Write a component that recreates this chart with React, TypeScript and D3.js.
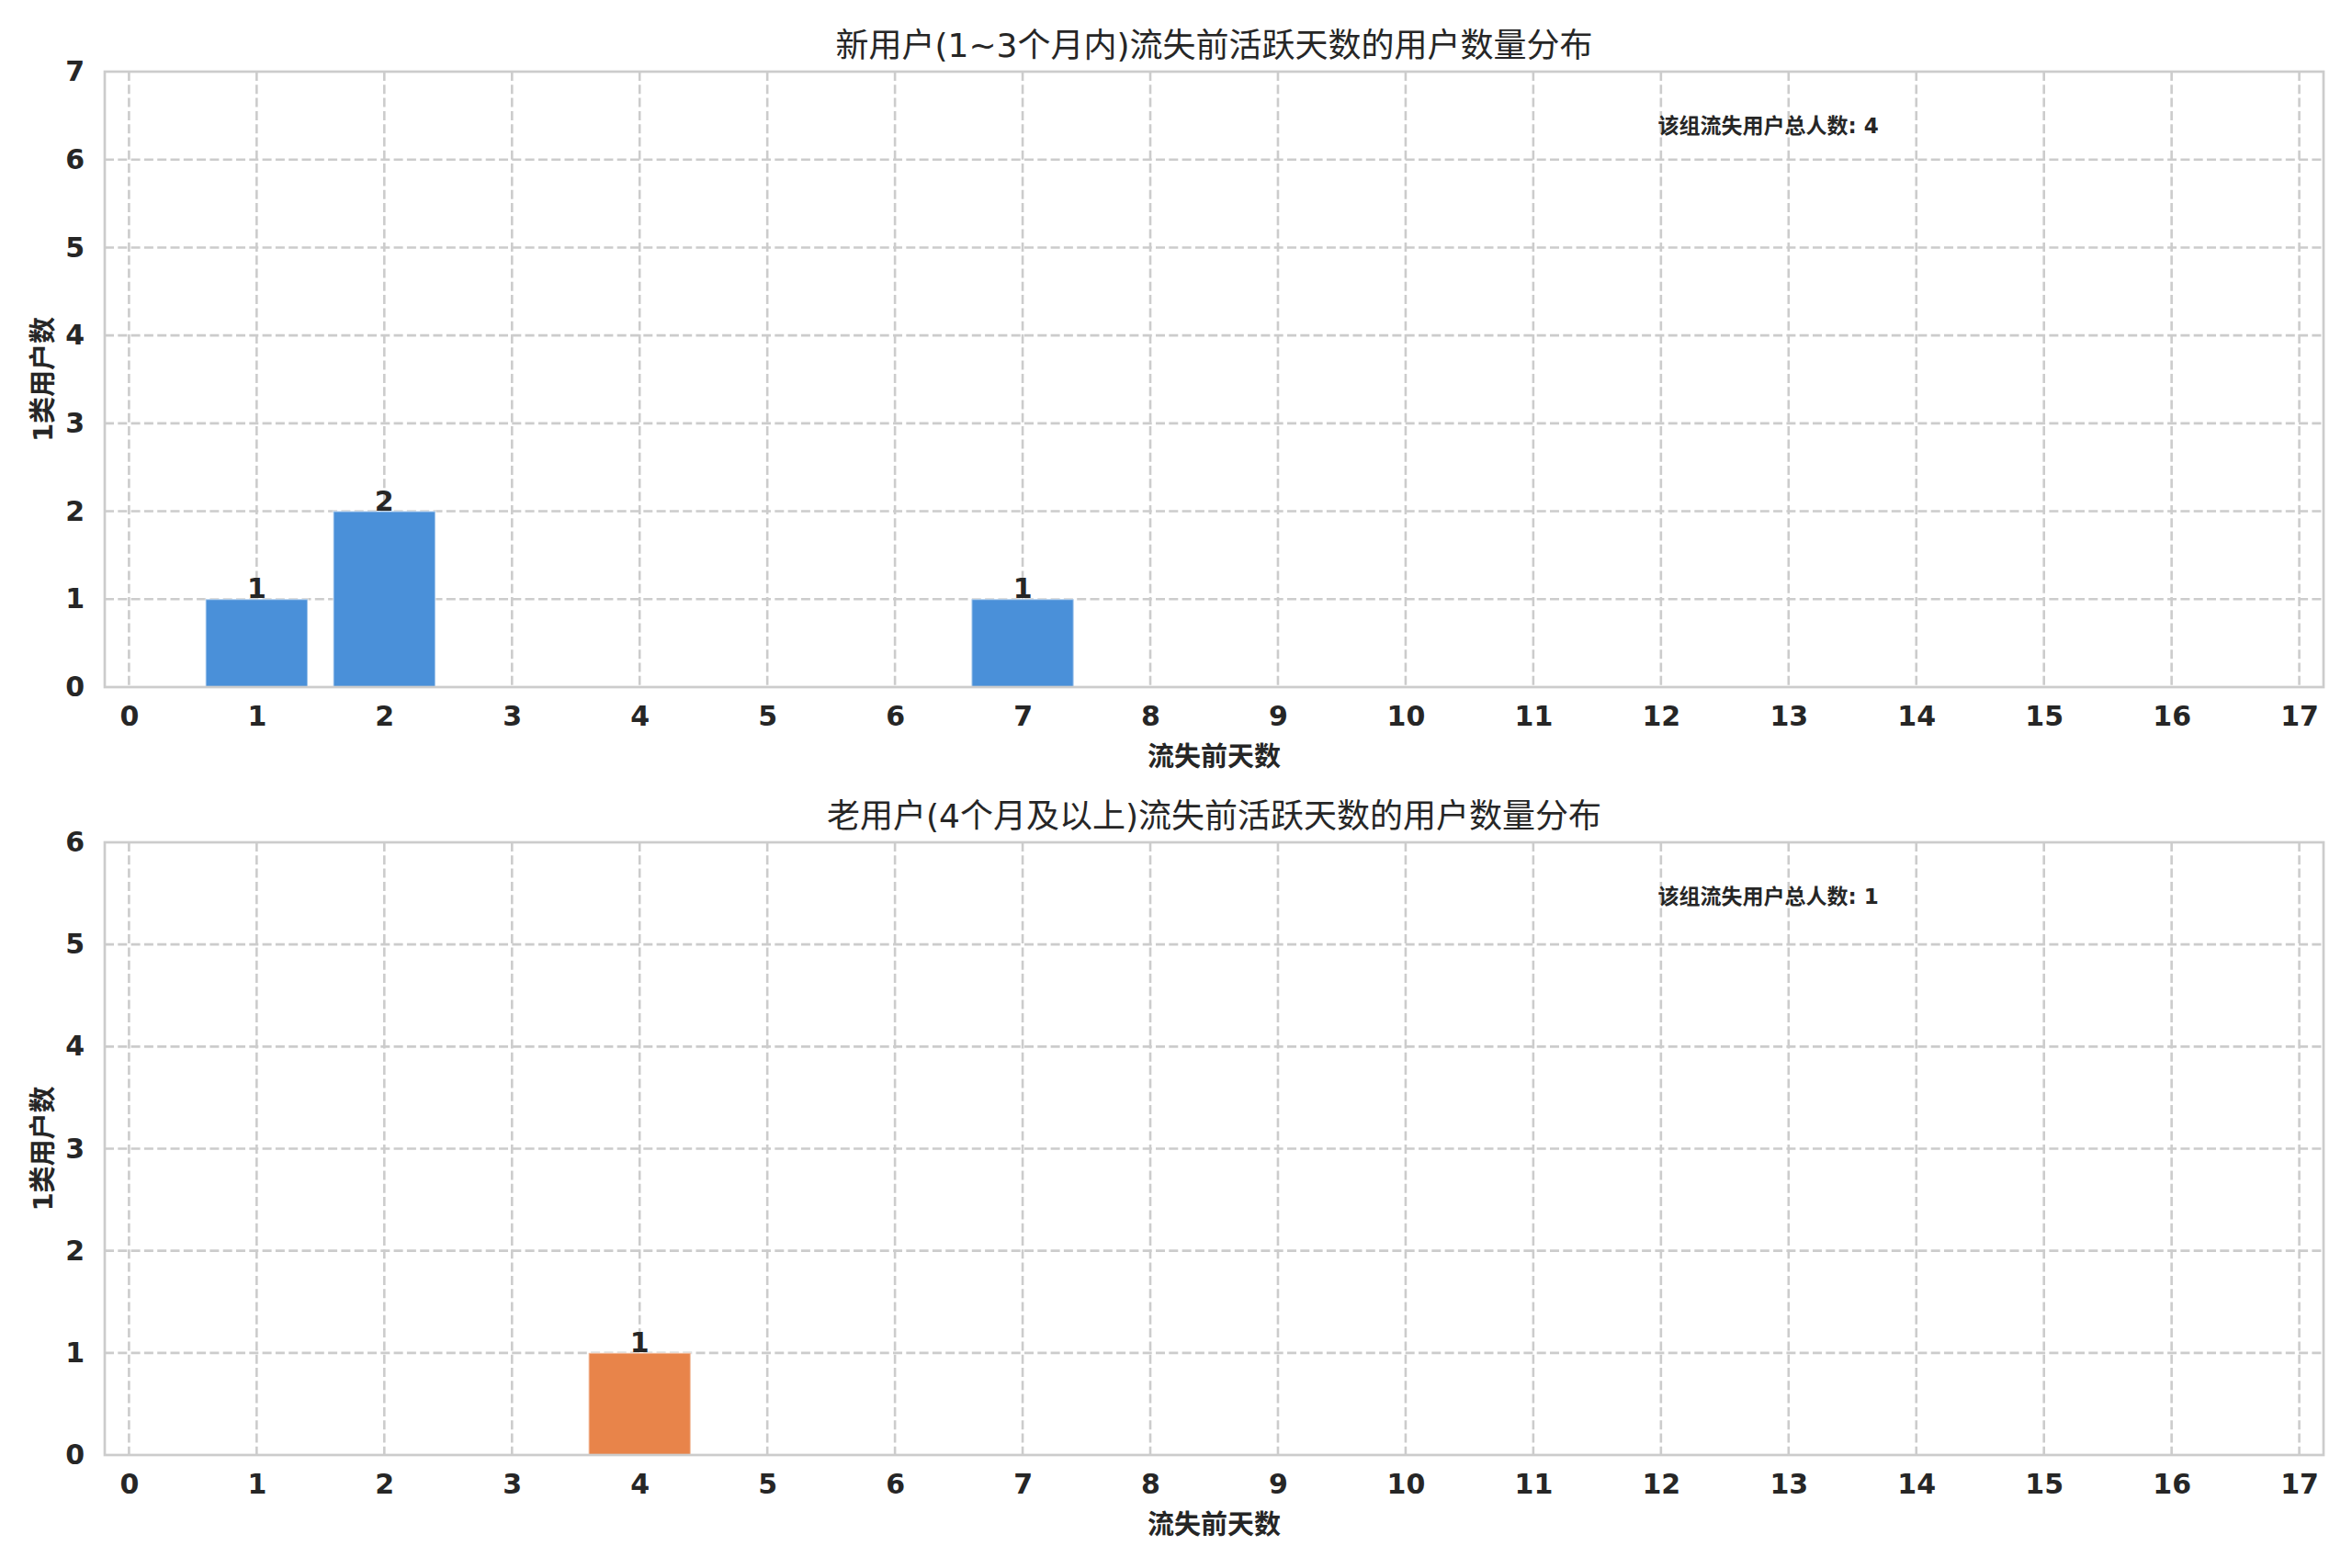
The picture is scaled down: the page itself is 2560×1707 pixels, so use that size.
import React, { useEffect, useRef } from 'react';
import * as d3 from 'd3';

const WIDTH = 2560;
const HEIGHT = 1707;
const FONT = '"DejaVu Sans", "Noto Sans CJK SC", sans-serif';

// x ticks are the day counts 0..17
const xTickValues = [0, 1, 2, 3, 4, 5, 6, 7, 8, 9, 10, 11, 12, 13, 14, 15, 16, 17];

// top panel: users registered 1~3 months
const newDays = [1, 2, 7];
const newCounts = [1, 2, 1];
const newYTicks = [0, 1, 2, 3, 4, 5, 6, 7];

// bottom panel: users registered 4+ months
const oldDays = [4];
const oldCounts = [1];
const oldYTicks = [0, 1, 2, 3, 4, 5, 6];

const titles = [
  '新用户(1~3个月内)流失前活跃天数的用户数量分布',
  '老用户(4个月及以上)流失前活跃天数的用户数量分布'
];
const xLabel = '流失前天数';
const yLabel = '1类用户数';
const totalLabel = '该组流失用户总人数';

interface PanelSpec {
  top: number;
  bottom: number;
  days: number[];
  counts: number[];
  yTicks: number[];
  color: string;
  title: string;
}

const LEFT = 114;
const RIGHT = 2529;

const App: React.FC = () => {
  const svgRef = useRef<SVGSVGElement>(null);

  useEffect(() => {
    if (!svgRef.current) return;
    const svg = d3.select(svgRef.current);
    svg.selectAll('*').remove();

    svg.append('rect')
      .attr('width', WIDTH)
      .attr('height', HEIGHT)
      .attr('fill', '#ffffff');

    const panels: PanelSpec[] = [
      { top: 78, bottom: 748, days: newDays, counts: newCounts, yTicks: newYTicks, color: '#4A90D9', title: titles[0] },
      { top: 917, bottom: 1584, days: oldDays, counts: oldCounts, yTicks: oldYTicks, color: '#E8844A', title: titles[1] }
    ];

    panels.forEach(p => {
      const x = d3.scaleLinear().domain([-0.19, 17.19]).range([LEFT, RIGHT]);
      const yMax = p.yTicks[p.yTicks.length - 1];
      const y = d3.scaleLinear().domain([0, yMax]).range([p.bottom, p.top]);
      const g = svg.append('g');

      // Grid
      g.append('g')
        .selectAll('line')
        .data(xTickValues)
        .join('line')
        .attr('x1', d => x(d))
        .attr('x2', d => x(d))
        .attr('y1', p.top)
        .attr('y2', p.bottom)
        .attr('stroke', '#cccccc')
        .attr('stroke-width', 2.6)
        .attr('stroke-dasharray', '10,4.3');

      g.append('g')
        .selectAll('line')
        .data(p.yTicks.filter(t => t > 0 && t < yMax))
        .join('line')
        .attr('x1', LEFT)
        .attr('x2', RIGHT)
        .attr('y1', d => y(d))
        .attr('y2', d => y(d))
        .attr('stroke', '#cccccc')
        .attr('stroke-width', 2.6)
        .attr('stroke-dasharray', '10,4.3');

      // Bars
      const barW = x(0.8) - x(0);
      g.append('g')
        .selectAll('rect')
        .data(p.days)
        .join('rect')
        .attr('x', d => x(d) - barW / 2)
        .attr('width', barW)
        .attr('y', (d, i) => y(p.counts[i]))
        .attr('height', (d, i) => y(0) - y(p.counts[i]))
        .attr('fill', p.color)
        .attr('stroke', 'rgba(255,255,255,0.45)')
        .attr('stroke-width', 2);

      // Bar value labels
      g.append('g')
        .selectAll('text')
        .data(p.days)
        .join('text')
        .attr('x', d => x(d))
        .attr('y', (d, i) => y(p.counts[i]) - 1)
        .attr('text-anchor', 'middle')
        .style('font-family', FONT)
        .style('font-weight', 'bold')
        .style('font-size', '30px')
        .attr('fill', '#262626')
        .text((d, i) => String(p.counts[i]));

      // Spines
      g.append('rect')
        .attr('x', LEFT)
        .attr('y', p.top)
        .attr('width', RIGHT - LEFT)
        .attr('height', p.bottom - p.top)
        .attr('fill', 'none')
        .attr('stroke', '#cccccc')
        .attr('stroke-width', 2.7);

      // Axes
      const xAxis = g.append('g')
        .attr('transform', `translate(0,${p.bottom})`)
        .call(d3.axisBottom(x).tickValues(xTickValues).tickSize(0).tickPadding(21).tickFormat(d3.format('d')));
      const yAxis = g.append('g')
        .attr('transform', `translate(${LEFT},0)`)
        .call(d3.axisLeft(y).tickValues(p.yTicks).tickSize(0).tickPadding(22).tickFormat(d3.format('d')));

      [xAxis, yAxis].forEach(a => {
        a.select('.domain').remove();
        a.attr('font-family', null).attr('font-size', null);
        a.selectAll('text')
          .style('font-family', FONT)
          .style('font-weight', 'bold')
          .style('font-size', '30px')
          .attr('fill', '#262626');
      });

      // Title
      g.append('text')
        .attr('x', (LEFT + RIGHT) / 2)
        .attr('y', p.top - 16)
        .attr('text-anchor', 'middle')
        .style('font-family', FONT)
        .style('font-size', '36px')
        .attr('fill', '#262626')
        .text(p.title);

      // Axis labels
      g.append('text')
        .attr('x', (LEFT + RIGHT) / 2)
        .attr('y', p.bottom + 86)
        .attr('text-anchor', 'middle')
        .style('font-family', FONT)
        .style('font-weight', 'bold')
        .style('font-size', '29px')
        .attr('fill', '#262626')
        .text(xLabel);

      g.append('text')
        .attr('transform', `translate(57,${(p.top + p.bottom) / 2}) rotate(-90)`)
        .attr('text-anchor', 'middle')
        .style('font-family', FONT)
        .style('font-weight', 'bold')
        .style('font-size', '29px')
        .attr('fill', '#262626')
        .text(yLabel);

      // Total annotation
      g.append('text')
        .attr('x', LEFT + 0.7 * (RIGHT - LEFT))
        .attr('y', p.top + 67)
        .style('font-family', FONT)
        .style('font-weight', 'bold')
        .style('font-size', '23px')
        .attr('fill', '#262626')
        .text(`${totalLabel}: ${d3.sum(p.counts)}`);
    });
  }, []);

  return (
    <svg
      ref={svgRef}
      width={WIDTH}
      height={HEIGHT}
      style={{ position: 'absolute', left: 0, top: 0, display: 'block' }}
    />
  );
};

export default App;
